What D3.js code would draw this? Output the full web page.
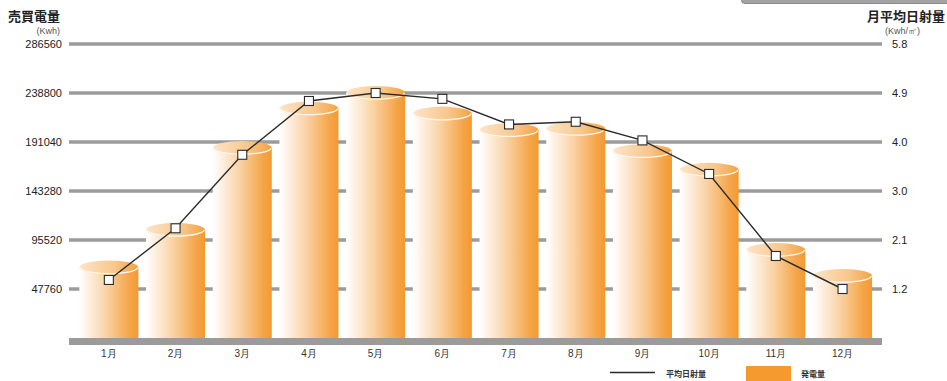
<!DOCTYPE html>
<html>
<head>
<meta charset="utf-8">
<script src="https://cdn.jsdelivr.net/npm/d3@7/dist/d3.min.js"></script>
<style>
  html, body { margin: 0; padding: 0; background: #fff; }
  svg { display: block; }
  text { font-family: "Liberation Sans", Arial, sans-serif; }
  .jp { font-family: "Noto Sans CJK JP", "Noto Sans", sans-serif; }
</style>
</head>
<body>
<svg id="chart" width="947" height="381"></svg>
<script>
// Monthly categories
const months = ["1月", "2月", "3月", "4月", "5月", "6月", "7月", "8月", "9月", "10月", "11月", "12月"];
// 発電量 (Kwh) per month
const generation = [68700, 105400, 185300, 223600, 238800, 218700, 202500, 203800, 182100, 163900, 85700, 60400];
// 月平均日射量 (Kwh/㎡) per month
const irradiance = [1.37, 2.34, 3.72, 4.73, 4.88, 4.77, 4.29, 4.34, 3.99, 3.36, 1.82, 1.20];
// Axis tick values (the right-hand labels share the left gridlines)
const leftTicks = [47760, 95520, 143280, 191040, 238800, 286560];
const rightTicks = [1.2, 2.1, 3.0, 4.0, 4.9, 5.8];
const rightMin = 0.28;

const svg = d3.select("#chart");

const gridX0 = 69, gridX1 = 882;
const yBase = 338, yTop = 44;

const x = d3.scaleBand().domain(months).range([75.5, 875.9])
  .paddingInner(0.115).paddingOuter(0.0575);
const yL = d3.scaleLinear().domain([0, leftTicks[leftTicks.length - 1]]).range([yBase, yTop]);
const yR = d3.scaleLinear().domain([rightMin, rightTicks[rightTicks.length - 1]]).range([yBase, yTop]);

// Gradients for the cylinders
const defs = svg.append("defs");
const body = defs.append("linearGradient").attr("id", "cylBody").attr("x1", 0).attr("x2", 1).attr("y1", 0).attr("y2", 0);
body.append("stop").attr("offset", "0%").attr("stop-color", "#ffffff");
body.append("stop").attr("offset", "45%").attr("stop-color", "#fad3a6");
body.append("stop").attr("offset", "85%").attr("stop-color", "#f5a548");
body.append("stop").attr("offset", "100%").attr("stop-color", "#f39a30");
const cap = defs.append("linearGradient").attr("id", "cylCap").attr("x1", 0).attr("x2", 1).attr("y1", 0).attr("y2", 0);
cap.append("stop").attr("offset", "0%").attr("stop-color", "#fde4c8");
cap.append("stop").attr("offset", "60%").attr("stop-color", "#f8c78c");
cap.append("stop").attr("offset", "100%").attr("stop-color", "#f4a240");

// Tab edge at the top right
svg.append("path")
  .attr("d", "M741.5,-2 L741.5,0.5 Q741.5,3.5 745,3.5 L948,3.5 L948,-2 Z")
  .attr("fill", "#a3a3a3").attr("stroke", "#7a7a7a").attr("stroke-width", 0.8);

// Horizontal gridlines
svg.append("g").selectAll("line").data(leftTicks).join("line")
  .attr("x1", gridX0).attr("x2", gridX1)
  .attr("y1", d => yL(d)).attr("y2", d => yL(d))
  .attr("stroke", "#9b9b9b").attr("stroke-width", 3.5);

// Floor band
svg.append("rect")
  .attr("x", gridX0).attr("width", gridX1 - gridX0)
  .attr("y", yBase).attr("height", 7)
  .attr("fill", "#9b9b9b");

// Cylinders
const ry = 7;
const bars = svg.append("g").selectAll("g").data(months.map((m, i) => ({ m, v: generation[i] }))).join("g");
bars.append("rect")
  .attr("x", d => x(d.m)).attr("width", x.bandwidth())
  .attr("y", d => yL(d.v)).attr("height", d => yBase - yL(d.v))
  .attr("fill", "url(#cylBody)");
bars.append("ellipse")
  .attr("cx", d => x(d.m) + x.bandwidth() / 2).attr("cy", d => yL(d.v))
  .attr("rx", x.bandwidth() / 2).attr("ry", ry)
  .attr("fill", "url(#cylCap)");
bars.append("path")
  .attr("d", d => {
    const cx = x(d.m) + x.bandwidth() / 2, cy = yL(d.v), rx = x.bandwidth() / 2 - 0.8;
    return `M${cx - rx},${cy} A${rx},${ry - 0.8} 0 0 0 ${cx + rx},${cy}`;
  })
  .attr("fill", "none").attr("stroke", "#fff7ee").attr("stroke-width", 1.3);

// Irradiance line with square markers
const lineGen = d3.line().x((d, i) => x(months[i]) + x.bandwidth() / 2).y(d => yR(d));
svg.append("path").datum(irradiance)
  .attr("d", lineGen).attr("fill", "none")
  .attr("stroke", "#2b2b2b").attr("stroke-width", 1.4);
svg.append("g").selectAll("rect").data(irradiance).join("rect")
  .attr("x", (d, i) => x(months[i]) + x.bandwidth() / 2 - 4.5)
  .attr("y", d => yR(d) - 4.5)
  .attr("width", 9).attr("height", 9)
  .attr("fill", "#fff").attr("stroke", "#2b2b2b").attr("stroke-width", 1.1);

// Left axis
const axL = svg.append("g").attr("transform", "translate(62,0)")
  .call(d3.axisLeft(yL).tickValues(leftTicks).tickSize(0).tickPadding(0).tickFormat(d3.format("d")));
axL.select(".domain").remove();
axL.selectAll("text").attr("font-size", 11).attr("fill", "#222")
  .attr("font-family", "'Liberation Sans', Arial, sans-serif");

// Right axis: labels sit on the shared gridlines
const axR = svg.append("g").attr("transform", "translate(892,0)")
  .call(d3.axisRight(yL).tickValues(leftTicks).tickSize(0).tickPadding(0)
    .tickFormat((d, i) => d3.format(".1f")(rightTicks[i])));
axR.select(".domain").remove();
axR.selectAll("text").attr("font-size", 11).attr("fill", "#222")
  .attr("font-family", "'Liberation Sans', Arial, sans-serif");

// Month labels
const axB = svg.append("g").attr("transform", `translate(0,${yBase + 12})`)
  .call(d3.axisBottom(x).tickSize(0).tickPadding(0));
axB.select(".domain").remove();
axB.selectAll("text").attr("font-size", 10).attr("fill", "#333")
  .attr("font-family", "'Noto Sans CJK JP', sans-serif");

// Axis titles
svg.append("text").attr("class", "jp").attr("x", 60).attr("y", 21)
  .attr("text-anchor", "end").attr("font-size", 13).attr("font-weight", "bold").attr("fill", "#222")
  .text("売買電量");
svg.append("text").attr("x", 60).attr("y", 33.5)
  .attr("text-anchor", "end").attr("font-size", 9).attr("fill", "#555")
  .text("(Kwh)");
svg.append("text").attr("class", "jp").attr("x", 945).attr("y", 21)
  .attr("text-anchor", "end").attr("font-size", 13).attr("font-weight", "bold").attr("fill", "#222")
  .text("月平均日射量");
svg.append("text").attr("x", 885).attr("y", 33.5)
  .attr("font-size", 9).attr("fill", "#555")
  .text("(Kwh/㎡)");

// Legend
const lg = svg.append("g");
lg.append("line").attr("x1", 610).attr("x2", 655).attr("y1", 372.5).attr("y2", 372.5)
  .attr("stroke", "#2b2b2b").attr("stroke-width", 1.4);
lg.append("text").attr("class", "jp").attr("x", 666).attr("y", 376.5)
  .attr("font-size", 8).attr("font-weight", "bold").attr("fill", "#333").text("平均日射量");
lg.append("rect").attr("x", 746).attr("y", 366).attr("width", 45).attr("height", 15)
  .attr("fill", "#f59a2f");
lg.append("text").attr("class", "jp").attr("x", 801).attr("y", 376.5)
  .attr("font-size", 8).attr("font-weight", "bold").attr("fill", "#333").text("発電量");
</script>
</body>
</html>
